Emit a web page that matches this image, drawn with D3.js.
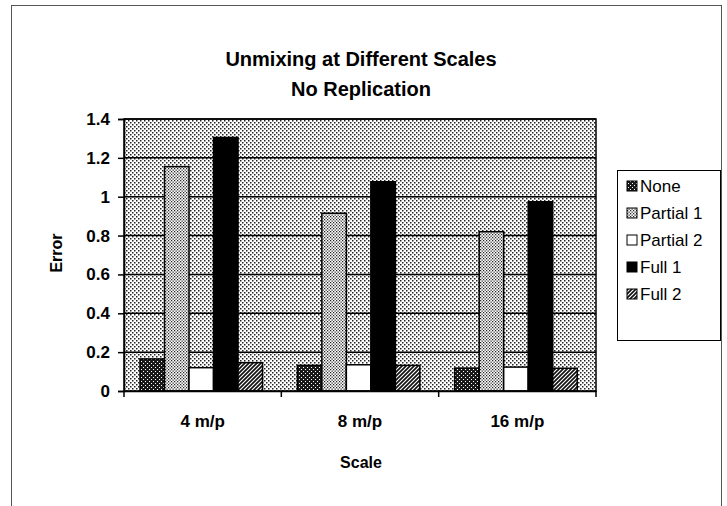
<!DOCTYPE html>
<html><head><meta charset="utf-8">
<script src="https://cdn.jsdelivr.net/npm/d3@7"></script>
<style>body{margin:0;background:#fff} text{font-family:"Liberation Sans",Arial,sans-serif;fill:#000}</style>
</head><body><svg id="c" width="727" height="506"></svg>
<script>
const categories = ["4 m/p", "8 m/p", "16 m/p"];
const seriesNames = ["None", "Partial 1", "Partial 2", "Full 1", "Full 2"];
const noneVals = [0.165, 0.132, 0.118];
const partial1Vals = [1.155, 0.915, 0.82];
const partial2Vals = [0.12, 0.135, 0.123];
const full1Vals = [1.305, 1.077, 0.974];
const full2Vals = [0.146, 0.132, 0.117];
const yTicks = [0, 0.2, 0.4, 0.6, 0.8, 1, 1.2, 1.4];
const yTickLabels = ["0", "0.2", "0.4", "0.6", "0.8", "1", "1.2", "1.4"];
const titleLines = ["Unmixing at Different Scales", "No Replication"];
const xTitle = "Scale", yTitle = "Error";

const seriesValues = [noneVals, partial1Vals, partial2Vals, full1Vals, full2Vals];
const fills = ["url(#pNone)", "url(#pP1)", "#fff", "#000", "url(#pF2)"];

const svg = d3.select("#c");
const defs = svg.append("defs");
function pat(id, size, bg, draw) {
  const p = defs.append("pattern").attr("id", id).attr("patternUnits", "userSpaceOnUse")
    .attr("width", size).attr("height", size);
  p.append("rect").attr("width", size).attr("height", size).attr("fill", bg);
  draw(p);
}
pat("pBg", 4, "#fff", p => {
  p.append("rect").attr("x", 0).attr("y", 0).attr("width", 1.5).attr("height", 1.5).attr("fill", "#222");
  p.append("rect").attr("x", 2).attr("y", 2).attr("width", 1.5).attr("height", 1.5).attr("fill", "#222");
});
pat("pP1", 3, "#fff", p => {
  p.append("rect").attr("x", 0).attr("y", 0).attr("width", 1.25).attr("height", 1.25).attr("fill", "#222");
  p.append("rect").attr("x", 1.5).attr("y", 1.5).attr("width", 1.25).attr("height", 1.25).attr("fill", "#222");
});
pat("pNone", 4, "#1a1a1a", p => {
  p.append("rect").attr("x", 1).attr("y", 1).attr("width", 1).attr("height", 1).attr("fill", "#fff");
  p.append("rect").attr("x", 3).attr("y", 3).attr("width", 1).attr("height", 1).attr("fill", "#fff");
});
pat("pF2", 4, "#fff", p => {
  p.append("path").attr("d", "M-1,5 L5,-1 M-1,1 L1,-1 M3,5 L5,3").attr("stroke", "#111").attr("stroke-width", 1.7);
});

// outer border
svg.append("rect").attr("x", 11.5).attr("y", 5.5).attr("width", 710).attr("height", 520)
  .attr("fill", "none").attr("stroke", "#555").attr("stroke-width", 1);

const L = 124, R = 596, T = 119, B = 391;
const y = d3.scaleLinear().domain([0, 1.4]).range([B, T]);
const x0 = d3.scaleBand().domain(categories).range([L, R]).padding(0);
const x1 = d3.scaleBand().domain(seriesNames).range([0, x0.bandwidth()])
  .paddingInner(0).paddingOuter(0.71).align(0.46);

// plot background
svg.append("rect").attr("x", L).attr("y", T).attr("width", R - L).attr("height", B - T)
  .attr("fill", "url(#pBg)");
// gridlines
svg.append("g").selectAll("line").data(yTicks.slice(1)).join("line")
  .attr("x1", L).attr("x2", R).attr("y1", d => y(d)).attr("y2", d => y(d))
  .attr("stroke", "#000").attr("stroke-width", 1.5);

// bars
const gs = svg.append("g").selectAll("g").data(seriesNames).join("g")
  .attr("fill", (d, i) => fills[i]);
gs.selectAll("rect").data((s, i) => categories.map((c, j) => ({ c, s, v: seriesValues[i][j] })))
  .join("rect")
  .attr("x", d => x0(d.c) + x1(d.s)).attr("width", x1.bandwidth())
  .attr("y", d => y(d.v)).attr("height", d => y(0) - y(d.v))
  .attr("stroke", "#000").attr("stroke-width", 1.5);

// plot border
svg.append("rect").attr("x", L).attr("y", T).attr("width", R - L).attr("height", B - T)
  .attr("fill", "none").attr("stroke", "#000").attr("stroke-width", 1.5);

// y axis
const yAxis = d3.axisLeft(y).tickValues(yTicks).tickFormat((d, i) => yTickLabels[i]).tickSize(6).tickPadding(8);
const ya = svg.append("g").attr("transform", `translate(${L},0)`).call(yAxis);
ya.select(".domain").attr("stroke", "#000").attr("stroke-width", 1.5);
ya.selectAll(".tick line").attr("stroke", "#000").attr("stroke-width", 1.5);
ya.selectAll("text").style("font-size", "17px").style("font-weight", "bold").attr("fill", "#000");

// x axis
const xAxis = d3.axisBottom(x0).tickSize(0).tickPadding(24);
const xa = svg.append("g").attr("transform", `translate(0,${B})`).call(xAxis);
xa.select(".domain").attr("stroke", "#000").attr("stroke-width", 1.5);
xa.selectAll("text").style("font-size", "17px").style("font-weight", "bold").attr("fill", "#000");
const bounds = categories.map(c => x0(c)).concat([x0.range()[1]]);
svg.append("g").selectAll("line").data(bounds).join("line")
  .attr("x1", d => d).attr("x2", d => d).attr("y1", B).attr("y2", B + 6)
  .attr("stroke", "#000").attr("stroke-width", 1.5);

// titles
svg.append("g").selectAll("text").data(titleLines).join("text")
  .attr("x", 361).attr("y", (d, i) => 66 + i * 30).attr("text-anchor", "middle")
  .style("font-size", "20px").style("font-weight", "bold").text(d => d);
svg.append("text").attr("x", 361).attr("y", 468).attr("text-anchor", "middle")
  .style("font-size", "16px").style("font-weight", "bold").text(xTitle);
svg.append("text").attr("transform", "translate(62,253) rotate(-90)").attr("text-anchor", "middle")
  .style("font-size", "16px").style("font-weight", "bold").text(yTitle);

// legend
svg.append("rect").attr("x", 617.5).attr("y", 170.5).attr("width", 103).attr("height", 170)
  .attr("fill", "#fff").attr("stroke", "#000").attr("stroke-width", 1);
const lg = svg.append("g").selectAll("g").data(seriesNames).join("g")
  .attr("transform", (d, i) => `translate(627,${186 + i * 27})`);
lg.append("rect").attr("x", 0).attr("y", -5).attr("width", 10).attr("height", 10)
  .attr("fill", (d, i) => fills[i]).attr("stroke", "#000").attr("stroke-width", 1);
lg.append("text").attr("x", 13).attr("y", 6).style("font-size", "17px").text(d => d);
</script></body></html>
